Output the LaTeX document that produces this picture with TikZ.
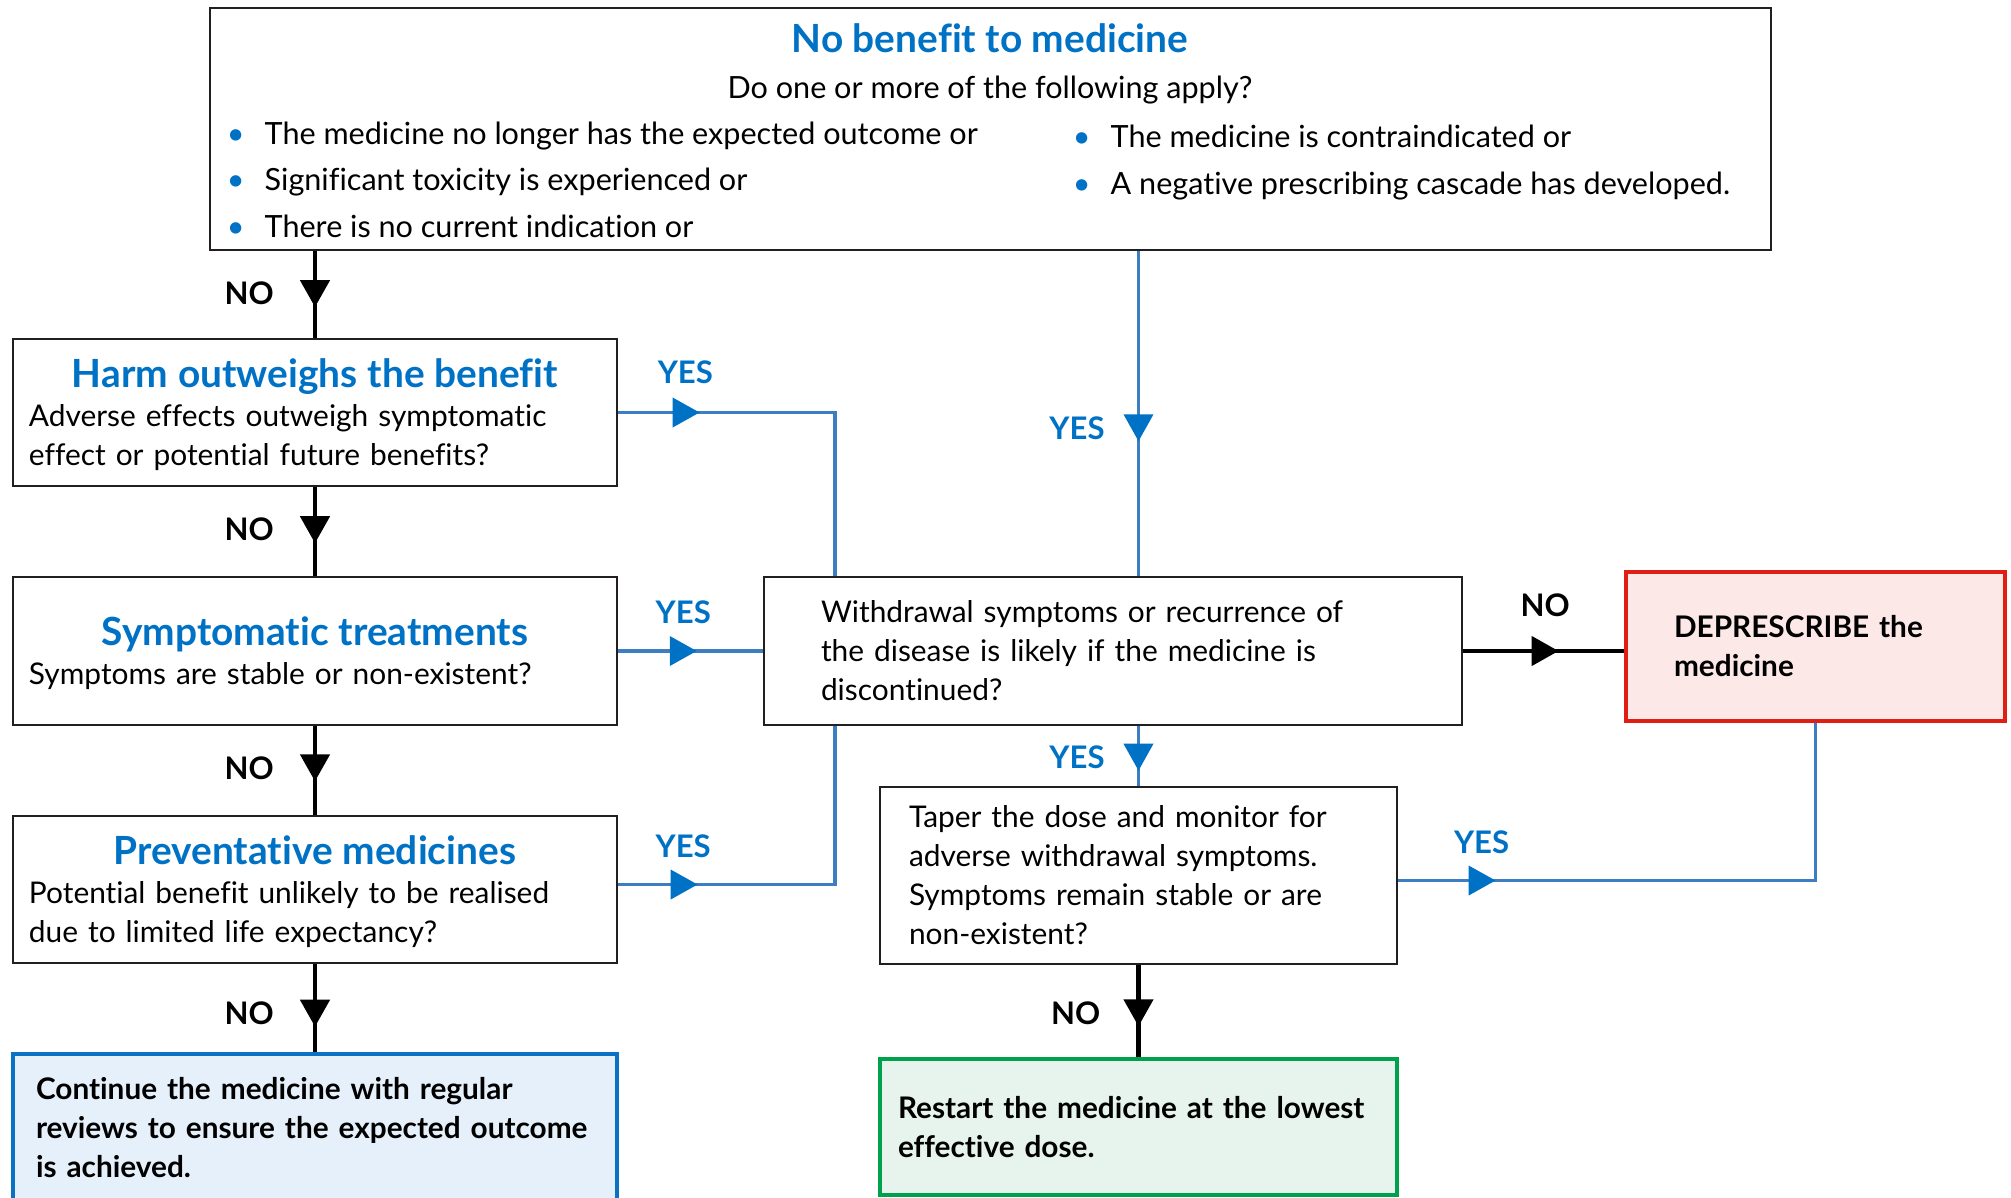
\documentclass[tikz,border=0pt]{standalone}
\usepackage{fontspec}
\setmainfont[Ligatures=NoCommon]{Lato}
\usetikzlibrary{arrows.meta,decorations.markings}

\definecolor{nzblue}{HTML}{0072C6}
\definecolor{linkblue}{HTML}{3D7EC2}
\definecolor{boxline}{HTML}{231F20}
\definecolor{stopred}{HTML}{E01F14}
\definecolor{stopfill}{HTML}{FCE8E7}
\definecolor{keepblue}{HTML}{0A71C5}
\definecolor{keepfill}{HTML}{E6F0FA}
\definecolor{okgreen}{HTML}{00A14B}
\definecolor{okfill}{HTML}{E6F4ED}

\newcommand{\listfont}{\fontsize{8.7}{11.1}\selectfont}
\newcommand{\bodyfont}{\fontsize{8.5}{11.1}\selectfont}
\newcommand{\outfont}{\fontsize{8.47}{11.1}\selectfont\bfseries}
\newcommand{\headfont}{\fontsize{11.05}{13}\selectfont\bfseries}
\newcommand{\blt}{\hbox to 0pt{\hss\textcolor{nzblue}{\textbullet}\hss}\hspace{2.9mm}}
\newcommand{\boxhead}[1]{{\centering\headfont\color{nzblue}\rule{0pt}{9.6pt}#1\par}\noindent}

\tikzstyle{qbox} = [rectangle, draw=boxline, line width=0.65pt, fill=white, inner ysep=0pt, align=left, font=\bodyfont]
\tikzstyle{outbox} = [qbox, line width=1.25pt, font=\outfont]
\tikzstyle{bullet} = [anchor=base west, inner sep=0pt, font=\listfont]
\tikzstyle{noline} = [draw=black, line width=1.3pt]
\tikzstyle{yesline} = [draw=linkblue, line width=1.1pt]
\tikzstyle{nolbl} = [font=\fontsize{8.85}{10}\selectfont\bfseries, text=black, inner sep=0pt]
\tikzstyle{yeslbl} = [nolbl, text=nzblue]
\tikzset{
  notip/.style={postaction=decorate, decoration={markings, mark=at position #1 with
    {\pgftransformxshift{1.35mm}\arrow{Triangle[length=2.7mm,width=2.9mm,color=black]}}}},
  yestip/.style={postaction=decorate, decoration={markings, mark=at position #1 with
    {\pgftransformxshift{1.35mm}\arrow{Triangle[length=2.7mm,width=2.9mm,color=nzblue]}}}}
}

\begin{document}
\begin{tikzpicture}[node distance=2.385cm]
  \useasboundingbox (0,0) rectangle (20.11,-11.97);

  % question at the top
  \node[qbox, minimum width=15.61cm, minimum height=2.42cm] (nobenefit) at (9.905,-1.29) {};
  \node[anchor=base, inner sep=0pt, font=\headfont, text=nzblue] (nbhead) at (9.9,-0.52) {No benefit to medicine};
  \node[anchor=base, inner sep=0pt, font=\listfont] (nbask) at (9.9,-0.98) {Do one or more of the following apply?};
  \node[bullet] (b1) at (2.35,-1.44) {\blt The medicine no longer has the expected outcome or};
  \node[bullet] (b2) at (2.35,-1.90) {\blt Significant toxicity is experienced or};
  \node[bullet] (b3) at (2.35,-2.37) {\blt There is no current indication or};
  \node[bullet] (b4) at (10.81,-1.475) {\blt The medicine is contraindicated or};
  \node[bullet] (b5) at (10.81,-1.94) {\blt A negative prescribing cascade has developed.};

  % left column
  \node[qbox, text width=5.72cm, inner xsep=0.16cm, minimum height=1.47cm] (harm) at (3.15,-4.125)
    {\boxhead{Harm outweighs the benefit}Adverse effects outweigh symptomatic\\effect or potential future benefits?};
  \node[qbox, text width=5.72cm, inner xsep=0.16cm, minimum height=1.48cm] (symp) [below of=harm]
    {\boxhead{Symptomatic treatments}Symptoms are stable or non-existent?};
  \node[qbox, text width=5.72cm, inner xsep=0.16cm, minimum height=1.47cm] (prev) [below of=symp]
    {\boxhead{Preventative medicines}Potential benefit unlikely to be realised\\due to limited life expectancy?};
  \node[outbox, draw=keepblue, fill=keepfill, text width=5.58cm, inner xsep=0.23cm, minimum height=1.48cm] (cont) [below of=prev]
    {Continue the medicine with regular\\reviews to ensure the expected outcome\\is achieved.};

  % right column
  \node[qbox, text width=5.84cm, inner xsep=0.57cm, minimum height=1.48cm] (withd) at (11.13,-6.51)
    {Withdrawal symptoms or recurrence of\\the disease is likely if the medicine is\\discontinued?};
  \node[outbox, draw=stopred, fill=stopfill, text width=2.83cm, inner xsep=0.48cm, minimum height=1.49cm] (depr) at (18.155,-6.465)
    {DEPRESCRIBE the\\medicine};
  \node[qbox, text width=4.59cm, inner xsep=0.29cm, minimum height=1.77cm] (taper) at (11.385,-8.755)
    {Taper the dose and monitor for\\adverse withdrawal symptoms.\\Symptoms remain stable or are\\non-existent?};
  \node[outbox, draw=okgreen, fill=okfill, text width=4.81cm, inner xsep=0.18cm, minimum height=1.36cm] (restart) at (11.385,-11.27)
    {Restart the medicine at the lowest\\effective dose.};

  \coordinate (jx) at (8.35,0);

  % NO branches
  \draw[noline, notip=0.49] (harm.north |- nobenefit.south) -- node[nolbl, pos=0.49, left=0.39cm] (no1) {NO} (harm.north);
  \draw[noline, notip=0.48] (harm.south) -- node[nolbl, pos=0.48, left=0.39cm] (no2) {NO} (symp.north);
  \draw[noline, notip=0.47] (symp.south) -- node[nolbl, pos=0.47, left=0.39cm] (no3) {NO} (prev.north);
  \draw[noline, notip=0.56] (prev.south) -- node[nolbl, pos=0.56, left=0.39cm] (no4) {NO} (cont.north);
  \draw[noline, notip=0.51] (withd.east) -- node[nolbl, pos=0.51, above=0.32cm] (no5) {NO} (withd.east -| depr.west);
  \draw[noline, notip=0.52] (taper.south) -- node[nolbl, pos=0.52, left=0.36cm] (no6) {NO} (restart.north);

  % YES branches
  \draw[yesline, yestip=0.544] (taper.north |- nobenefit.south) -- node[yeslbl, pos=0.544, left=0.32cm] (yes1) {YES} (taper.north |- withd.north);
  \draw[yesline, yestip=0.68cm] (harm.east) -- node[yeslbl, pos=0.31, above=0.27cm] (yes2) {YES} (harm.east -| jx) -- (withd.north -| jx);
  \draw[yesline, yestip=0.45] (symp.east) -- node[yeslbl, pos=0.45, above=0.25cm] (yes3) {YES} (withd.west);
  \draw[yesline, yestip=0.66cm] ([yshift=0.05cm]prev.east) -- node[yeslbl, pos=0.30, above=0.25cm] (yes4) {YES} ([yshift=0.05cm]prev.east -| jx) -- (withd.south -| jx);
  \draw[yesline, yestip=0.52] (taper.north |- withd.south) -- node[yeslbl, pos=0.52, left=0.32cm] (yes5) {YES} (taper.north);
  \draw[yesline, yestip=0.84cm] ([yshift=-0.05cm]taper.east) -- node[yeslbl, pos=0.2, above=0.25cm] (yes6) {YES} ([yshift=-0.05cm]taper.east -| depr.south) -- (depr.south);
\end{tikzpicture}
\end{document}
